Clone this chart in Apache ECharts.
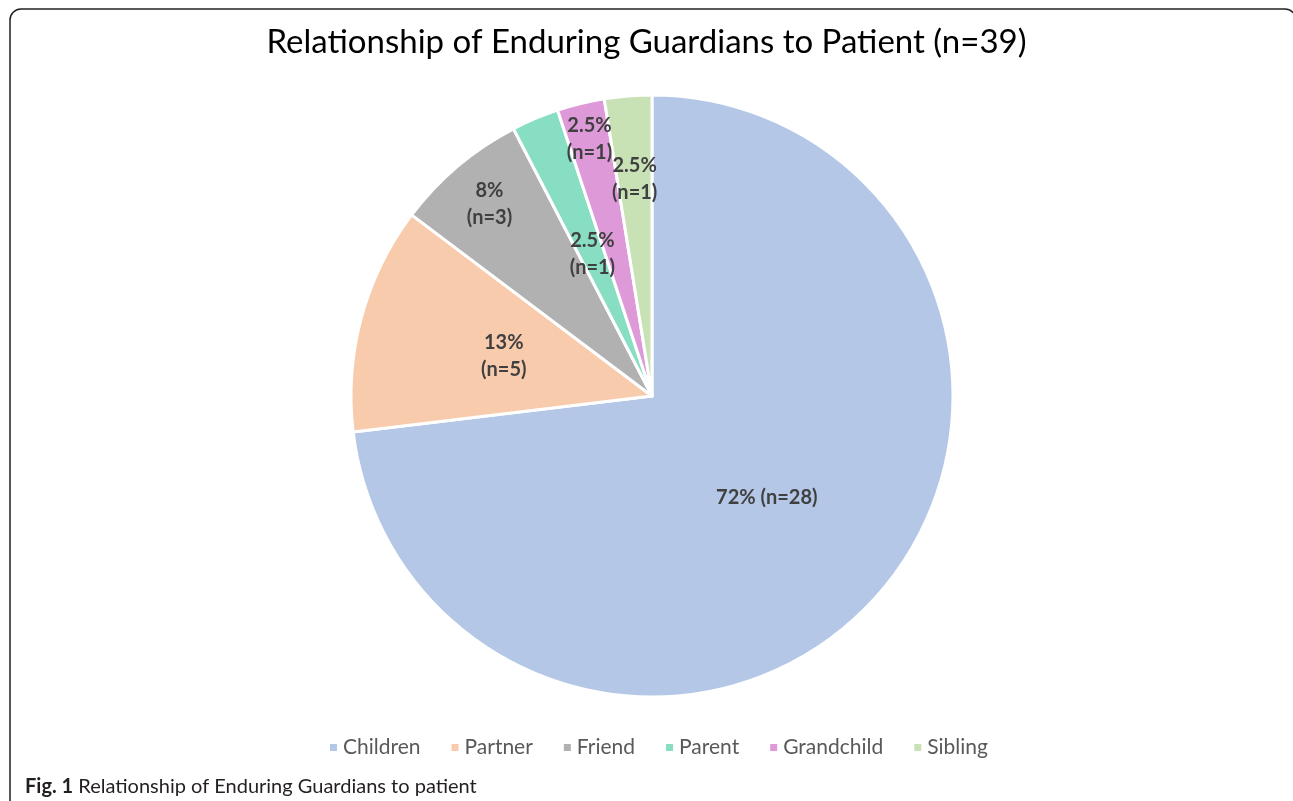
<!DOCTYPE html>
<html>
<head>
<meta charset="utf-8">
<script src="https://cdn.jsdelivr.net/npm/echarts@6/dist/echarts.min.js"></script>
<style>
  html, body { margin: 0; padding: 0; background: #fff; }
  #chart { width: 1293px; height: 801px; }
</style>
</head>
<body>
<div id="chart"></div>
<script>
// data
var categories = ['Children', 'Partner', 'Friend', 'Parent', 'Grandchild', 'Sibling'];
var shares = [72, 12, 7, 2.5, 2.5, 2.5];   // slice sizes as drawn
var counts = [28, 5, 3, 1, 1, 1];
var percentLabels = ['72%', '13%', '8%', '2.5%', '2.5%', '2.5%'];
var colors = ['#B4C7E7', '#F8CBAD', '#B1B1B1', '#88DEC2', '#DE9AD8', '#C9E2B5'];

// how far out each label sits, as a share of the radius
var labelRadius = [0.5, 0.5, 0.82, 0.5, 0.86, 0.71];

var pieCenter = [652, 396];
var pieRadius = 301;

var chart = echarts.init(document.getElementById('chart'));

chart.setOption({
    backgroundColor: '#fff',
    color: colors,
    animation: false,
    title: [{
        text: 'Relationship of Enduring Guardians to Patient (n=39)',
        left: 'center',
        top: 21,
        textStyle: {
            fontFamily: 'Lato',
            fontWeight: 'normal',
            fontSize: 33,
            color: '#000'
        }
    }, {
        text: '{b|Fig. 1} Relationship of Enduring Guardians to patient',
        left: 20,
        top: 772,
        textStyle: {
            fontFamily: 'Lato',
            fontWeight: 'normal',
            fontSize: 20,
            color: '#231f20',
            rich: {
                b: { fontFamily: 'Lato', fontWeight: 'bold', fontSize: 20, color: '#231f20' }
            }
        }
    }],
    legend: {
        bottom: 38,
        left: 323,
        icon: 'rect',
        itemWidth: 9,
        itemHeight: 9,
        itemGap: 29,
        textStyle: {
            fontFamily: 'Lato',
            fontSize: 21,
            color: '#595959'
        },
        data: categories
    },
    graphic: [{
        type: 'rect',
        shape: { x: 10, y: 9, width: 1286, height: 900, r: 11 },
        style: { fill: 'none', stroke: '#222', lineWidth: 1.5 },
        silent: true
    }],
    series: [{
        type: 'pie',
        center: pieCenter,
        radius: pieRadius,
        startAngle: 90,
        clockwise: true,
        itemStyle: { borderColor: '#fff', borderWidth: 3 },
        label: {
            show: true,
            position: 'inside',
            fontFamily: 'Lato',
            fontWeight: 'bold',
            fontSize: 20,
            lineHeight: 27,
            color: '#404040',
            formatter: function (p) {
                var sep = p.dataIndex === 0 ? ' ' : '\n';
                return percentLabels[p.dataIndex] + sep + '(n=' + counts[p.dataIndex] + ')';
            }
        },
        labelLine: { show: false },
        labelLayout: function (p) {
            var r = p.labelRect;
            var vx = r.x + r.width / 2 - pieCenter[0];
            var vy = r.y + r.height / 2 - pieCenter[1];
            var k = labelRadius[p.dataIndex] / 0.5 - 1;
            return { dx: vx * k, dy: vy * k };
        },
        data: categories.map(function (c, i) {
            return { name: c, value: shares[i] };
        })
    }]
});
</script>
</body>
</html>
